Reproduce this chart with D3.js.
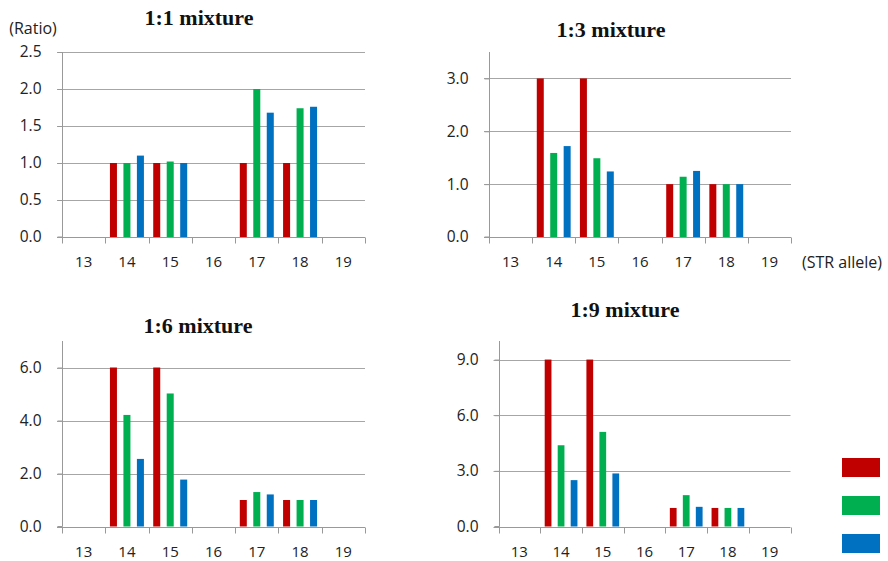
<!DOCTYPE html>
<html>
<head>
<meta charset="utf-8">
<script src="https://cdn.jsdelivr.net/npm/d3@7"></script>
<style>
  html, body { margin: 0; padding: 0; background: #fff; }
  svg { display: block; }
</style>
</head>
<body>
<svg id="chart" width="888" height="561"></svg>
<script>
// ---- Data ----
const categories = ["13", "14", "15", "16", "17", "18", "19"];
const seriesNames = ["A", "B", "C"];
const seriesColors = ["#C00000", "#00B050", "#0070C0"];

const titles = ["1:1 mixture", "1:3 mixture", "1:6 mixture", "1:9 mixture"];

// values per category (null = no bar)
const mix11_red   = [null, 1.00, 1.00, null, 1.00, 1.00, null];
const mix11_green = [null, 1.00, 1.02, null, 2.00, 1.74, null];
const mix11_blue  = [null, 1.10, 1.00, null, 1.68, 1.76, null];

const mix13_red   = [null, 3.00, 3.00, null, 1.00, 1.00, null];
const mix13_green = [null, 1.59, 1.49, null, 1.14, 1.00, null];
const mix13_blue  = [null, 1.72, 1.24, null, 1.25, 1.00, null];

const mix16_red   = [null, 6.00, 6.00, null, 1.00, 1.00, null];
const mix16_green = [null, 4.21, 5.02, null, 1.30, 1.00, null];
const mix16_blue  = [null, 2.55, 1.77, null, 1.21, 1.00, null];

const mix19_red   = [null, 9.00, 9.00, null, 1.00, 1.00, null];
const mix19_green = [null, 4.38, 5.10, null, 1.69, 1.00, null];
const mix19_blue  = [null, 2.50, 2.86, null, 1.06, 1.00, null];

const yMax  = [2.5, 3.5, 7, 10];
const yTicks = [
  [0, 0.5, 1.0, 1.5, 2.0, 2.5],
  [0, 1, 2, 3],
  [0, 2, 4, 6],
  [0, 3, 6, 9]
];

const panelValues = [
  [mix11_red, mix11_green, mix11_blue],
  [mix13_red, mix13_green, mix13_blue],
  [mix16_red, mix16_green, mix16_blue],
  [mix19_red, mix19_green, mix19_blue]
];

// ---- Layout (positions only) ----
const layout = [
  { left: 62,    right: 365,   top: 52,  bottom: 237,   titleX: 199, titleY: 25 },
  { left: 489,   right: 791,   top: 52,  bottom: 237,   titleX: 611, titleY: 37 },
  { left: 62,    right: 365,   top: 341, bottom: 526.5, titleX: 198, titleY: 333 },
  { left: 498.5, right: 790.5, top: 341, bottom: 526.5, titleX: 625, titleY: 317 }
];

const svg = d3.select("#chart");
const sansFont = "'Open Sans', 'Noto Sans', sans-serif";

layout.forEach((L, p) => {
  const g = svg.append("g");
  const x0 = d3.scaleBand().domain(categories).range([L.left, L.right]).paddingInner(0).paddingOuter(0);
  const x1 = d3.scaleBand().domain(seriesNames).range([0, x0.bandwidth()]).paddingInner(0.48).paddingOuter(0.345);
  const y = d3.scaleLinear().domain([0, yMax[p]]).range([L.bottom, L.top]);

  // gridlines
  g.selectAll("line.grid").data(yTicks[p].filter(t => t > 0)).enter().append("line")
    .attr("x1", L.left - 5).attr("x2", L.right)
    .attr("y1", d => Math.round(y(d)) + 0.5).attr("y2", d => Math.round(y(d)) + 0.5)
    .attr("stroke", "#a6a6a6").attr("stroke-width", 1);

  // y axis
  const yAxis = d3.axisLeft(y).tickValues(yTicks[p]).tickSize(5).tickPadding(16)
    .tickFormat(d3.format(".1f"));
  const ya = g.append("g").attr("transform", `translate(${Math.round(L.left) + 0.5},0)`).call(yAxis);
  ya.select(".domain").attr("stroke", "#999").attr("d", `M-5,${L.bottom}H0V${L.top}`);
  ya.selectAll(".tick line").attr("stroke", "#999");
  ya.selectAll(".tick text").attr("font-family", sansFont).attr("font-size", 15.5).attr("fill", "#222");

  // bars
  seriesNames.forEach((s, si) => {
    const vals = panelValues[p][si];
    g.selectAll(null).data(categories.map((c, i) => ({ c, v: vals[i] })).filter(d => d.v != null))
      .enter().append("rect")
      .attr("x", d => x0(d.c) + x1(s))
      .attr("width", x1.bandwidth())
      .attr("y", d => y(d.v))
      .attr("height", d => y(0) - y(d.v))
      .attr("fill", seriesColors[si]);
  });

  // x axis
  const xa = g.append("g").attr("transform", `translate(0,${Math.round(L.bottom) + 0.5})`);
  xa.append("line").attr("x1", L.left - 5).attr("x2", L.right).attr("y1", 0).attr("y2", 0).attr("stroke", "#999");
  const bounds = categories.map(c => x0(c)).concat([L.right]);
  xa.selectAll("line.tk").data(bounds).enter().append("line")
    .attr("x1", d => Math.round(d) + 0.5).attr("x2", d => Math.round(d) + 0.5)
    .attr("y1", 0).attr("y2", 6).attr("stroke", "#999");
  xa.selectAll("text").data(categories).enter().append("text")
    .attr("x", d => x0(d) + x0.bandwidth() / 2)
    .attr("y", 23.5)
    .attr("dominant-baseline", "central")
    .attr("text-anchor", "middle")
    .attr("font-family", sansFont).attr("font-size", 15).attr("fill", "#222")
    .text(d => d);

  // title
  g.append("text").attr("x", L.titleX).attr("y", L.titleY)
    .attr("text-anchor", "middle")
    .attr("font-family", "'Liberation Serif', 'Times New Roman', serif")
    .attr("font-weight", "bold").attr("font-size", 22).attr("fill", "#111")
    .text(titles[p]);
});

// axis captions
svg.append("text").attr("x", 33).attr("y", 27.5).attr("text-anchor", "middle")
  .attr("dominant-baseline", "central")
  .attr("font-family", sansFont).attr("font-size", 16).attr("fill", "#222").text("(Ratio)");
svg.append("text").attr("x", 802).attr("y", 261.5).attr("text-anchor", "start")
  .attr("dominant-baseline", "central")
  .attr("font-family", sansFont).attr("font-size", 16).attr("fill", "#222").text("(STR allele)");

// legend swatches (labels fall outside the picture)
const legend = svg.append("g");
legend.selectAll("rect").data(seriesNames).enter().append("rect")
  .attr("x", 842).attr("y", (d, i) => 458 + i * 38)
  .attr("width", 38).attr("height", 19)
  .attr("fill", (d, i) => seriesColors[i]);
</script>
</body>
</html>
